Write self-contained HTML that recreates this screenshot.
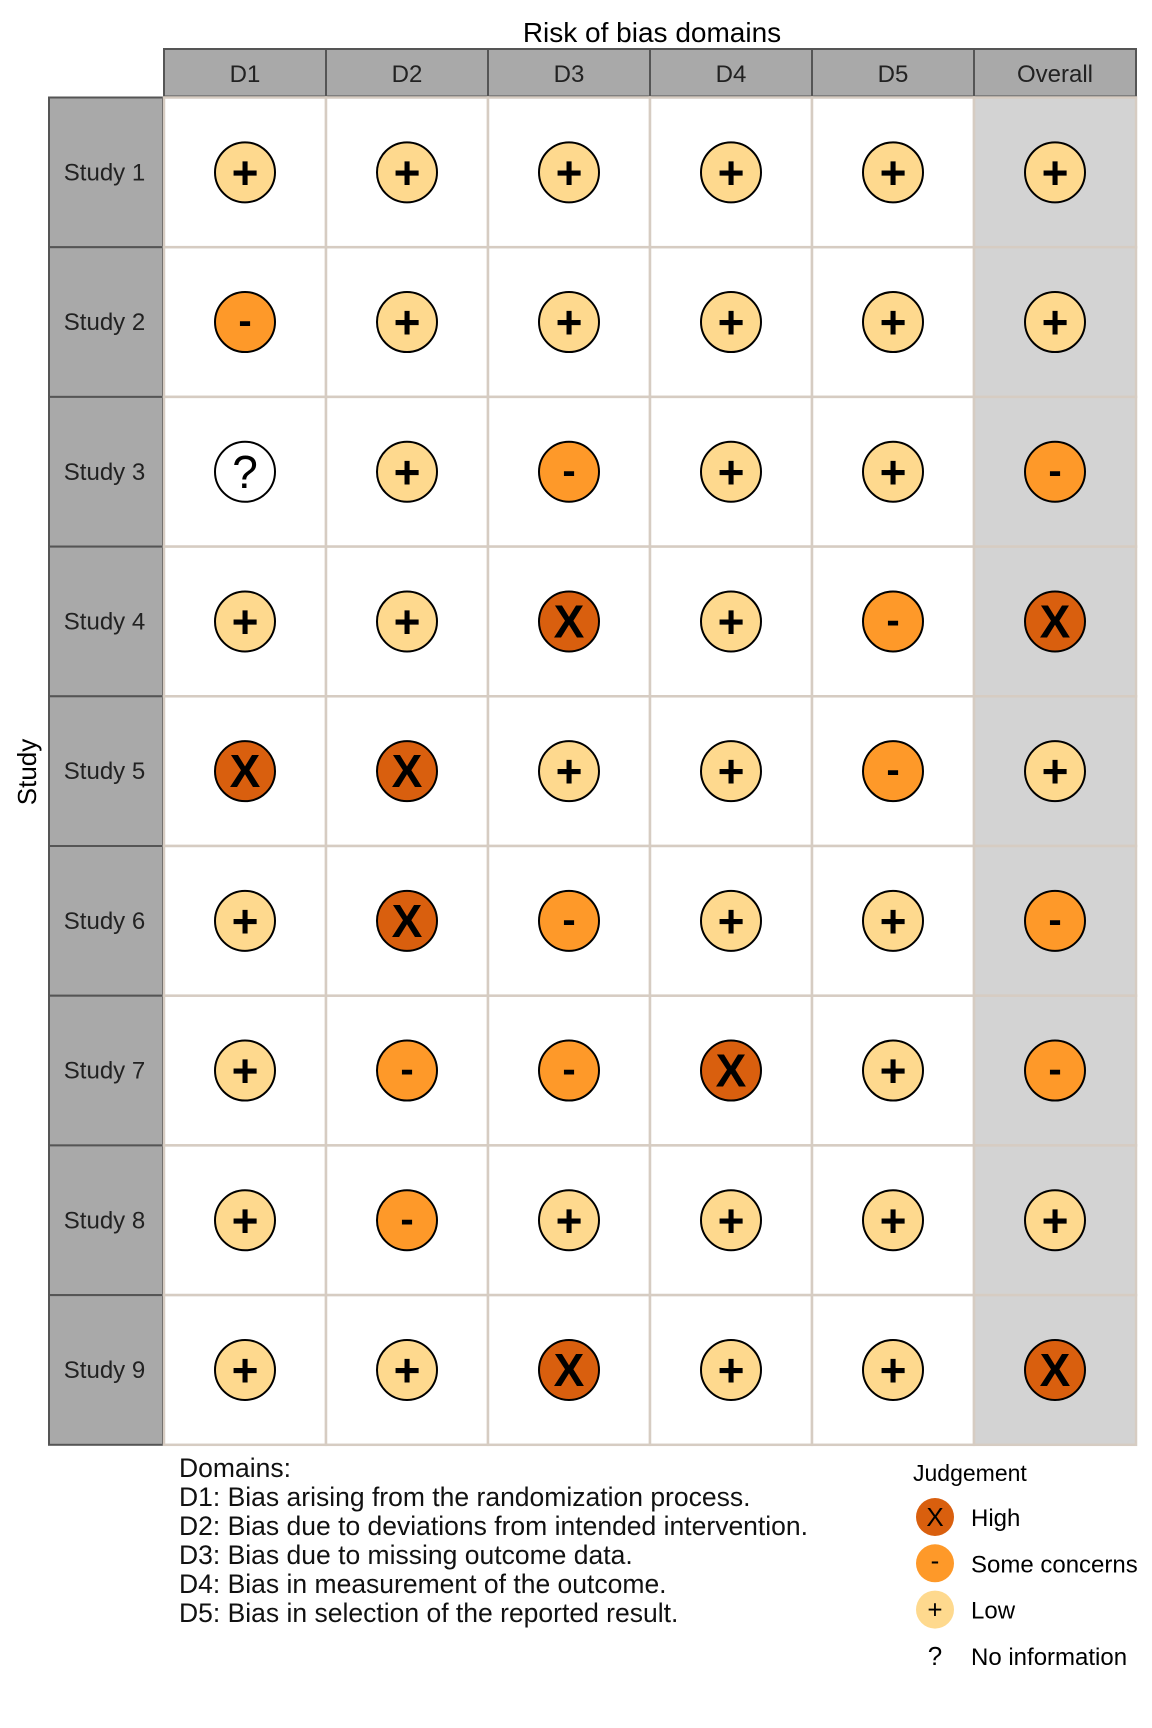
<!DOCTYPE html>
<html><head><meta charset="utf-8"><style>
body{margin:0;background:#fff}
svg{display:block;font-family:"Liberation Sans",sans-serif}
</style></head><body>
<svg id="c" width="1152" height="1728" viewBox="0 0 1152 1728"></svg>
<script>
const studies=["Study 1","Study 2","Study 3","Study 4","Study 5","Study 6","Study 7","Study 8","Study 9"];
const domains=["D1","D2","D3","D4","D5","Overall"];
const judgements=[
["L","L","L","L","L","L"],
["S","L","L","L","L","L"],
["N","L","S","L","L","S"],
["L","L","H","L","S","H"],
["H","H","L","L","S","L"],
["L","H","S","L","L","S"],
["L","S","S","H","L","S"],
["L","S","L","L","L","L"],
["L","L","H","L","L","H"]];
const domainDesc=["Domains:","D1: Bias arising from the randomization process.","D2: Bias due to deviations from intended intervention.","D3: Bias due to missing outcome data.","D4: Bias in measurement of the outcome.","D5: Bias in selection of the reported result."];
const legendKeys=["H","S","L","N"];
const legendLabels=["High","Some concerns","Low","No information"];
const fills={H:"#D95F0E",S:"#FE9929",L:"#FED98E",N:"#ffffff"};
const syms={H:"X",S:"-",L:"+",N:"?"};
const NS="http://www.w3.org/2000/svg";
const svg=document.getElementById('c');
function el(t,a,p){const e=document.createElementNS(NS,t);for(const k in a)e.setAttribute(k,a[k]);(p||svg).appendChild(e);return e;}
const x0=164,cw=162,y0=97.5,rh=149.7,hx=49,hTop=49;
const xc=i=>x0+cw*(i+0.5), yc=j=>y0+rh*(j+0.5);
let t=el('text',{x:652,y:42,'font-size':28,'text-anchor':'middle'});t.textContent="Risk of bias domains";

t=el('text',{x:0,y:0,'font-size':26,'text-anchor':'middle',transform:'translate(36,772) rotate(-90)'});t.textContent="Study";

domains.forEach((d,i)=>{
 const g=el('g',{});
 el('rect',{x:x0+cw*i,y:hTop,width:cw,height:y0-hTop-1,fill:'#a9a9a9',stroke:'#555','stroke-width':2},g);
 const tt=el('text',{x:xc(i),y:82,'font-size':24,'text-anchor':'middle',fill:'#222'},g);tt.textContent=d;
});
studies.forEach((s,j)=>{
 const g=el('g',{});
 el('rect',{x:hx,y:y0+rh*j,width:x0-hx-1,height:rh,fill:'#a9a9a9',stroke:'#555','stroke-width':2},g);
 const tt=el('text',{x:(hx+x0)/2-2,y:yc(j)+8,'font-size':24,'text-anchor':'middle',fill:'#222'},g);tt.textContent=s;
});
judgements.forEach((row,j)=>row.forEach((v,i)=>{
 const g=el('g',{});
 
 
 el('rect',{x:x0+cw*i,y:y0+rh*j,width:cw,height:rh,fill:i==5?'#d3d3d3':'#fff',stroke:'#d6ccc2','stroke-width':2.5},g);
 el('circle',{cx:xc(i),cy:yc(j),r:30,fill:fills[v],stroke:'#000','stroke-width':2},g);
 const tt=el('text',{x:xc(i),y:yc(j)+(v=="S"?12:16),'font-size':v=="S"?40:46,'font-weight':v=="N"?'normal':'bold','text-anchor':'middle'},g);tt.textContent=syms[v];
}));
domainDesc.forEach((d,k)=>{const tt=el('text',{x:179,y:1477+k*29,'font-size':26.5,fill:'#111'});tt.textContent=d;
 });
t=el('text',{x:913,y:1481,'font-size':23});t.textContent="Judgement";

legendKeys.forEach((k,n)=>{
 const g=el('g',{});
 const cy=1517+n*46.3;
 if(k!="N")el('circle',{cx:935,cy:cy,r:19,fill:fills[k]},g);
 const s=el('text',{x:935,y:cy+(k=="S"?6:9),'font-size':26,'text-anchor':'middle'},g);s.textContent=syms[k];
 const l=el('text',{x:971,y:cy+9,'font-size':24},g);l.textContent=legendLabels[n];
});
</script>
</body></html>
